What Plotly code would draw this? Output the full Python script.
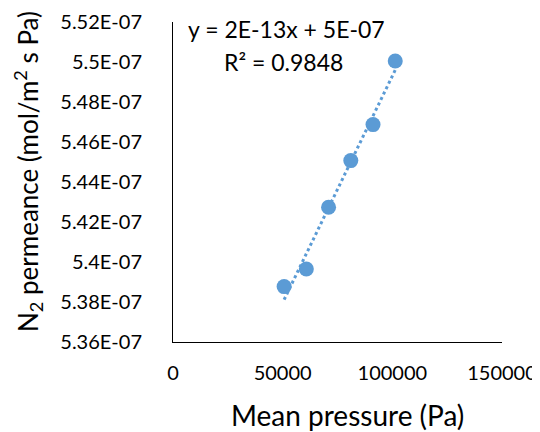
import numpy as np
import plotly.graph_objects as go

# Data
mean_pressure = [50662, 60795, 70928, 81060, 91193, 101325]
n2_permeance = [5.3877e-07, 5.3965e-07, 5.4274e-07, 5.4507e-07, 5.4687e-07, 5.5005e-07]

y_tickvals = [5.36e-07, 5.38e-07, 5.40e-07, 5.42e-07, 5.44e-07, 5.46e-07, 5.48e-07, 5.50e-07, 5.52e-07]
y_ticktext = ["5.36E-07", "5.38E-07", "5.4E-07", "5.42E-07", "5.44E-07", "5.46E-07", "5.48E-07", "5.5E-07", "5.52E-07"]
x_tickvals = [0, 50000, 100000, 150000]
x_ticktext = ["0", "50000", "100000", "150000"]

eq_text = "y = 2E-13x + 5E-07"
r2_text = "R² = 0.9848"
x_title = "Mean pressure (Pa)"
y_title = "N<sub>2</sub> permeance (mol/m<sup>2</sup> s Pa)"

FONT = "Lato"
COLOR = "#5B9BD5"

# Linear trendline from the data
slope, intercept = np.polyfit(mean_pressure, n2_permeance, 1)
tx = [min(mean_pressure), max(mean_pressure)]
ty = [slope * v + intercept for v in tx]

fig = go.Figure()
fig.add_trace(go.Scatter(x=tx, y=ty, mode="lines",
                         line=dict(color=COLOR, width=3, dash="dot"),
                         showlegend=False, hoverinfo="skip"))
fig.add_trace(go.Scatter(x=mean_pressure, y=n2_permeance, mode="markers",
                         marker=dict(color=COLOR, size=15),
                         showlegend=False))

fig.add_annotation(x=0.04, y=1.0, xref="paper", yref="paper", text=eq_text,
                   showarrow=False, xanchor="left", yanchor="middle",
                   font=dict(family=FONT, size=23, color="black"), yshift=-7)
fig.add_annotation(x=0.15, y=1.0, xref="paper", yref="paper", text=r2_text,
                   showarrow=False, xanchor="left", yanchor="middle",
                   font=dict(family=FONT, size=23, color="black"), yshift=-40)
fig.add_annotation(x=0, y=0.531, xref="paper", yref="paper", text=y_title,
                   textangle=-90, showarrow=False, xanchor="center", yanchor="middle",
                   xshift=-145, font=dict(family=FONT, size=26, color="black"))
fig.add_annotation(x=0.5, y=0, xref="paper", yref="paper", text=x_title,
                   showarrow=False, xanchor="center", yanchor="middle",
                   xshift=10, yshift=-73, font=dict(family=FONT, size=28, color="black"))

fig.update_layout(
    width=532, height=424,
    margin=dict(l=165, r=38, t=14, b=90),
    paper_bgcolor="white", plot_bgcolor="white",
    font=dict(family=FONT, size=20, color="black"),
    xaxis=dict(range=[0, 150000], tickvals=x_tickvals, ticktext=x_ticktext,
               showgrid=False, zeroline=False, showline=True, linecolor="black",
               linewidth=1, ticks="", ticklabelstandoff=13, automargin=False),
    yaxis=dict(range=[5.36e-07, 5.52e-07], tickvals=y_tickvals, ticktext=y_ticktext,
               showgrid=False, zeroline=False, showline=True, linecolor="black",
               linewidth=1, ticks="", ticklabelstandoff=26, automargin=False),
)

fig.write_html("out.html")
